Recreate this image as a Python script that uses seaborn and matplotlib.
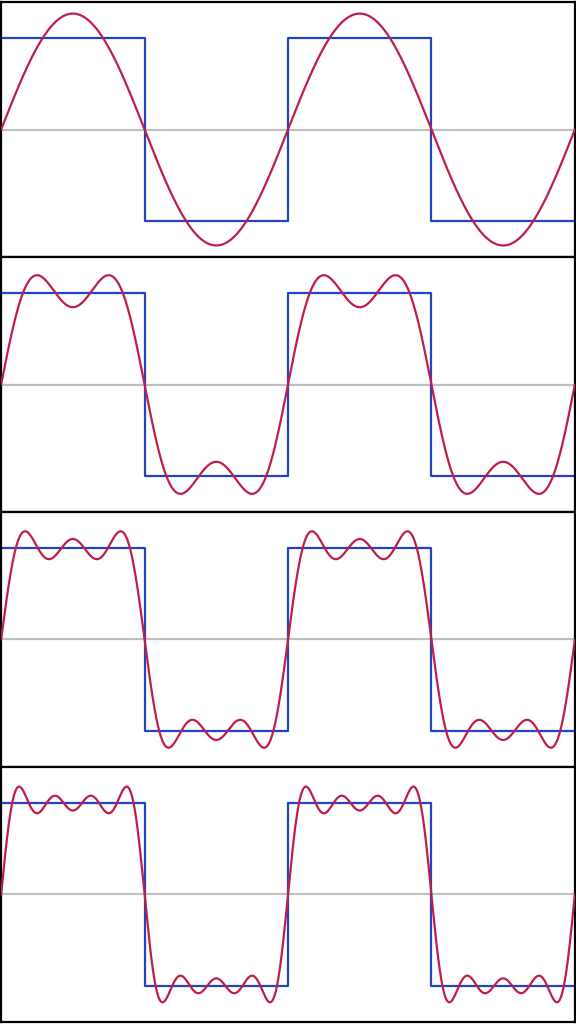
"""Square wave and its partial Fourier sums, one panel per number of terms."""
import numpy as np
import pandas as pd
import matplotlib.pyplot as plt
import seaborn as sns

# square wave: levels at the corners of each half period (two full periods)
square_x = [0.0, 0.5, 0.5, 1.0, 1.0, 1.5, 1.5, 2.0]
square_y = [1.0, 1.0, -1.0, -1.0, 1.0, 1.0, -1.0, -1.0]
# odd harmonics used by each panel's partial sum
harmonics = [1, 3, 5, 7]
terms_per_panel = [1, 2, 3, 4]

blue = "#2443c0"
red = "#c01e4a"
grey = "#c0c0c0"

sns.set_style("white")
fig, axes = plt.subplots(4, 1, figsize=(5.76, 10.24), dpi=100)
fig.subplots_adjust(left=0.002, right=0.998, top=0.998, bottom=0.002, hspace=0.0)

t = np.linspace(0, 2, 1200)
sq = pd.DataFrame({"x": square_x, "y": square_y})

for ax, n in zip(axes, terms_per_panel):
    partial = sum(4 / (np.pi * k) * np.sin(2 * np.pi * k * t) for k in harmonics[:n])
    df = pd.DataFrame({"x": t, "y": partial})
    ax.axhline(0, color=grey, lw=1.6, zorder=1)
    sns.lineplot(data=sq, x="x", y="y", ax=ax, color=blue, lw=1.6, sort=False,
                 estimator=None, zorder=2)
    sns.lineplot(data=df, x="x", y="y", ax=ax, color=red, lw=1.6, sort=False,
                 estimator=None, zorder=3)
    ax.set_xlim(0, 2)
    ax.set_ylim(-1.4, 1.4)
    ax.set_xticks([])
    ax.set_yticks([])
    ax.set_xlabel("")
    ax.set_ylabel("")
    for s in ax.spines.values():
        s.set_visible(True)
        s.set_color("black")
        s.set_linewidth(1.6)

fig.savefig("out.png", dpi=100)
